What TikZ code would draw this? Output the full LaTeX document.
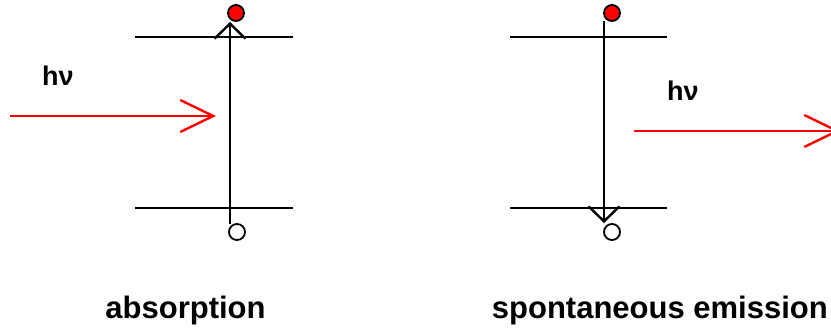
\documentclass[tikz,border=0pt]{standalone}
\usepackage{fontspec}
\setmainfont{Liberation Sans}
\usetikzlibrary{arrows.meta}
\begin{document}
\begin{tikzpicture}[x=1pt,y=-1pt,
  level/.style={line width=2.4pt},
  trans/.style={line width=2.4pt},
  tip/.style={-{Straight Barb[length=15pt,width=31pt,line width=2.4pt]}},
  photon/.style={red,line width=2.4pt,-{Straight Barb[length=33pt,width=32pt,line width=2.4pt]}},
  filled/.style={circle,draw=black,fill=red,line width=1.8pt,minimum size=16pt,inner sep=0pt},
  empty/.style={circle,draw=black,fill=white,line width=1.8pt,minimum size=16pt,inner sep=0pt},
  lbl/.style={font=\bfseries\fontsize{31}{33}\selectfont,anchor=base,inner sep=0pt},
  hnu/.style={font=\bfseries\fontsize{27}{30}\selectfont,anchor=base west,inner sep=0pt}]
\useasboundingbox (0,0) rectangle (831,329);
% absorption
\coordinate (aul) at (135,37); \coordinate (aur) at (293,37);
\coordinate (all) at (135,208); \coordinate (alr) at (293,208);
\draw[level] (aul) -- (aur);
\draw[level] (all) -- (alr);
\node[filled] (ae) at (236,13) {};
\node[empty] (ag) at (237,232) {};
\coordinate (ab) at (230,224); \coordinate (at) at (230,22);
\draw[trans,tip] (ab) -- (at);
\coordinate (ps) at (10,116); \coordinate (pe) at (216,116);
\draw[photon] (ps) -- (pe);
\node[hnu] (hn1) at (42,85) {hν};
\node[lbl] (t1) at (185.5,318) {absorption};
% spontaneous emission
\coordinate (bul) at (510,37); \coordinate (bur) at (667,37);
\coordinate (bll) at (510,208); \coordinate (blr) at (667,208);
\draw[level] (bul) -- (bur);
\draw[level] (bll) -- (blr);
\node[filled] (be) at (612,13) {};
\node[empty] (bg) at (612,232) {};
\coordinate (bt) at (604,21); \coordinate (bb) at (604,223);
\draw[trans,tip] (bt) -- (bb);
\coordinate (qs) at (634,131); \coordinate (qe) at (840,131);
\draw[photon] (qs) -- (qe);
\node[hnu] (hn2) at (667,100) {hν};
\node[lbl,anchor=base east] (t2) at (828,318) {spontaneous emission};
\end{tikzpicture}
\end{document}
